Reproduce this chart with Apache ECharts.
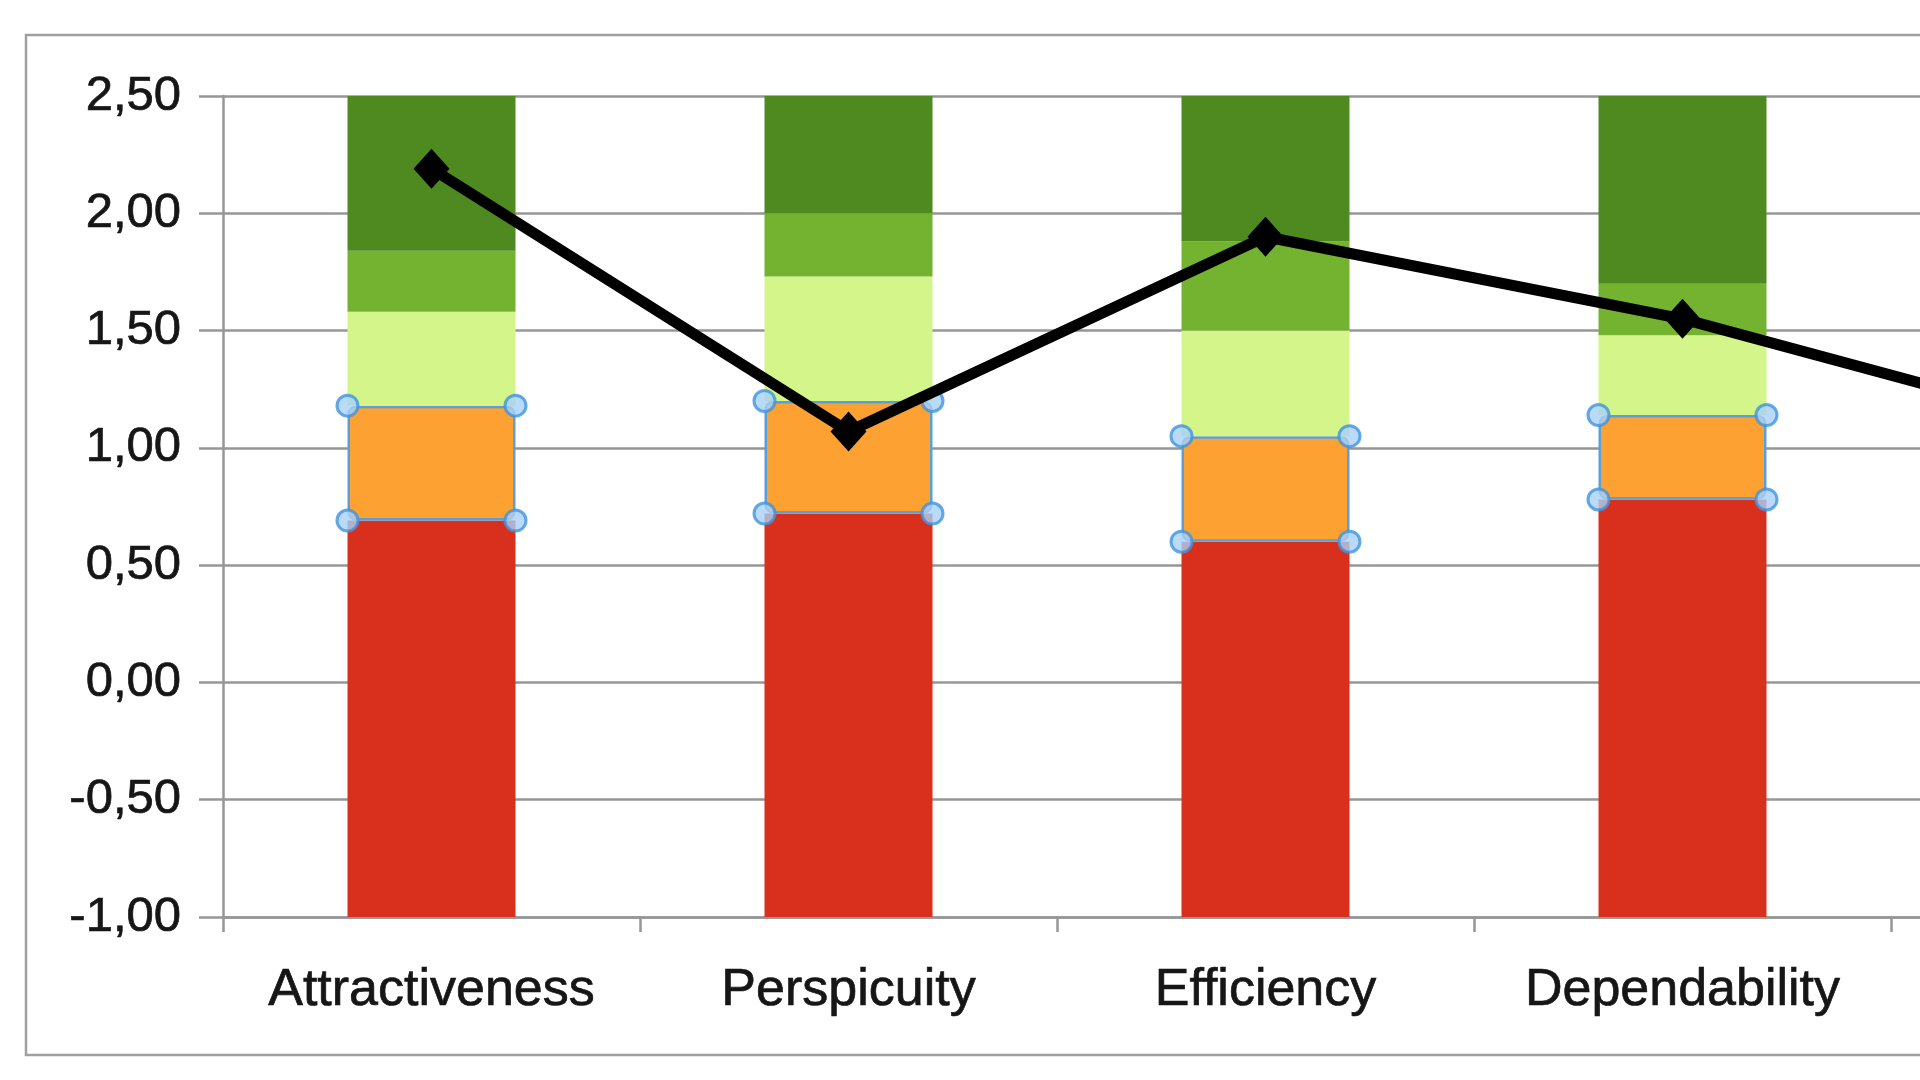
<!DOCTYPE html>
<html>
<head>
<meta charset="utf-8">
<title>UEQ benchmark</title>
<script src="https://cdn.jsdelivr.net/npm/echarts@6/dist/echarts.min.js"></script>
<style>
  html, body { margin: 0; padding: 0; background: #fff; }
  #chart { width: 1920px; height: 1080px; }
</style>
</head>
<body>
<div id="chart"></div>
<script>
// scales (the last one runs off the right edge of the picture)
const scales = ["Attractiveness", "Perspicuity", "Efficiency", "Dependability", "Stimulation"];

// benchmark borders per scale
const badTop = [0.69, 0.72, 0.60, 0.78, 0.50];
const belowAvgTop = [1.18, 1.20, 1.05, 1.14, 1.00];
const aboveAvgTop = [1.58, 1.73, 1.50, 1.48, 1.35];
const goodTop = [1.84, 2.00, 1.88, 1.70, 1.70];
const excellentTop = [2.50, 2.50, 2.50, 2.50, 2.50];

// measured means
const means = [2.19, 1.07, 1.90, 1.55, 1.07];

const yTicks = { min: -1, max: 2.5, step: 0.5 };

const COLORS = {
  bad: "#d9301e",
  belowAvg: "#fca132",
  aboveAvg: "#d3f58a",
  good: "#73b330",
  excellent: "#4e8a1f",
};

const GRID = "#969696";
const TEXT = "#161616";
const FONT = "'Liberation Sans', Arial, Helvetica, sans-serif";

const chart = echarts.init(document.getElementById("chart"), null, { renderer: "canvas" });

const diff = (hi, lo) => hi.map((v, i) => +(v - lo[i]).toFixed(4));
const baseline = scales.map(() => yTicks.min);

const stackBar = (name, data, color, extra = {}) => ({
  name,
  type: "bar",
  stack: "bench",
  stackStrategy: "all",
  barWidth: 168,
  silent: true,
  data,
  itemStyle: { color, ...extra },
  z: 2,
});

// selection handles on the "below average" segment
const handles = (side) => ({
  type: "scatter",
  silent: true,
  symbol: "circle",
  symbolSize: 21,
  symbolOffset: [side * 84, 0],
  itemStyle: { color: "#a9d1f7", borderColor: "#3f93e0", borderWidth: 3 },
  data: scales.flatMap((s, i) => [[i, badTop[i]], [i, belowAvgTop[i]]]),
  z: 6,
});

const labelStyle = { color: TEXT, fontFamily: FONT, textBorderColor: TEXT, textBorderWidth: 0.7 };

const option = {
  backgroundColor: "#fff",
  animation: false,
  grid: { left: 223, top: 96, width: 417 * scales.length, height: 821, outerBoundsMode: "none", containLabel: false },
  xAxis: {
    type: "category",
    data: scales,
    axisLine: { show: true, onZero: false, lineStyle: { color: GRID, width: 2.5 } },
    axisTick: { show: true, length: 15, lineStyle: { color: GRID, width: 2.5 } },
    axisLabel: { interval: 0, margin: 48, fontSize: 52, ...labelStyle },
    splitLine: { show: false },
  },
  yAxis: {
    type: "value",
    min: yTicks.min,
    max: yTicks.max,
    interval: yTicks.step,
    axisLine: { show: true, lineStyle: { color: GRID, width: 2.5 } },
    axisTick: { show: true, length: 24, lineStyle: { color: GRID, width: 2.5 } },
    axisLabel: {
      margin: 42,
      fontSize: 49,
      ...labelStyle,
      formatter: (v) => v.toFixed(2).replace(".", ","),
    },
    splitLine: { show: true, lineStyle: { color: GRID, width: 2.5 } },
  },
  graphic: [
    {
      type: "rect",
      silent: true,
      shape: { x: 26, y: 35, width: 2100, height: 1020 },
      style: { fill: "none", stroke: "#a0a0a0", lineWidth: 2.5 },
      z: 100,
    },
  ],
  series: [
    stackBar("base", baseline, "transparent"),
    stackBar("bad", diff(badTop, baseline), COLORS.bad),
    stackBar("below average", diff(belowAvgTop, badTop), COLORS.belowAvg, {
      borderColor: "#5a9fd8",
      borderWidth: 2.5,
      borderRadius: 7,
    }),
    stackBar("above average", diff(aboveAvgTop, belowAvgTop), COLORS.aboveAvg),
    stackBar("good", diff(goodTop, aboveAvgTop), COLORS.good),
    stackBar("excellent", diff(excellentTop, goodTop), COLORS.excellent),
    handles(-1),
    handles(1),
    {
      name: "mean",
      type: "line",
      data: means,
      silent: true,
      symbol: "diamond",
      symbolSize: [36, 40],
      lineStyle: { color: "#000", width: 11 },
      itemStyle: { color: "#000" },
      z: 10,
    },
  ],
};

chart.setOption(option);
</script>
</body>
</html>
